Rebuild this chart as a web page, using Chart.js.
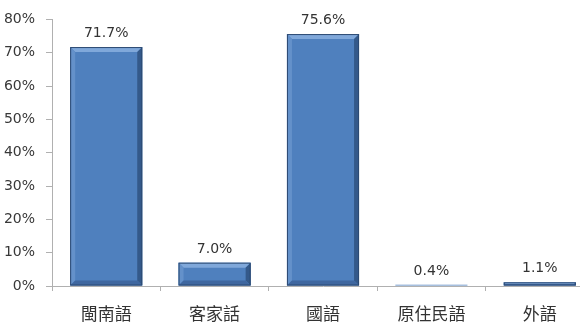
<!DOCTYPE html>
<html>
<head>
<meta charset="utf-8">
<script src="https://cdn.jsdelivr.net/npm/chart.js@4/dist/chart.umd.min.js"></script>
<style>
  html, body { margin: 0; padding: 0; background: #fff; overflow: hidden; }
  /* the plot runs a bit past the right edge of the picture, like the original */
  #wrap { width: 596px; height: 329px; }
</style>
</head>
<body>
<div id="wrap"><canvas id="langChart"></canvas></div>
<script>
const categories = ['閩南語', '客家話', '國語', '原住民語', '外語'];
const shares = [71.7, 7.0, 75.6, 0.4, 1.1];
const yMax = 80;
const yStep = 10;

// bevelled look like the old office charts
const bevelPlugin = {
  id: 'bevel',
  afterDatasetsDraw(chart) {
    const ctx = chart.ctx;
    chart.getDatasetMeta(0).data.forEach(function(bar) {
      const l = bar.x - bar.width / 2, r = bar.x + bar.width / 2;
      const t = bar.y, b = bar.base;
      const h = b - t;
      if (h < 2) return;
      const s = Math.min(5, h / 2);
      ctx.save();
      const face = (pts, col) => {
        ctx.beginPath();
        ctx.moveTo(pts[0][0], pts[0][1]);
        pts.slice(1).forEach(p => ctx.lineTo(p[0], p[1]));
        ctx.closePath();
        ctx.fillStyle = col;
        ctx.fill();
      };
      face([[l, t], [r, t], [r - s, t + s], [l + s, t + s]], '#80a8da');
      face([[l, t], [l + s, t + s], [l + s, b - s], [l, b]], '#6491ca');
      face([[r, t], [r, b], [r - s, b - s], [r - s, t + s]], '#34598a');
      face([[l, b], [l + s, b - s], [r - s, b - s], [r, b]], '#3f67a0');
      ctx.strokeStyle = '#2c4a72';
      ctx.lineWidth = 1;
      ctx.strokeRect(l + 0.5, t + 0.5, r - l - 1, h - 1);
      ctx.restore();
    });
  }
};

const valueLabels = {
  id: 'valueLabels',
  afterDatasetsDraw(chart) {
    const ctx = chart.ctx;
    ctx.save();
    ctx.font = '14px "DejaVu Sans", Verdana, sans-serif';
    ctx.fillStyle = '#333';
    ctx.textAlign = 'center';
    ctx.textBaseline = 'alphabetic';
    chart.getDatasetMeta(0).data.forEach(function(bar, i) {
      ctx.fillText(shares[i].toFixed(1) + '%', bar.x, bar.y - 10);
    });
    ctx.restore();
  }
};

new Chart(document.getElementById('langChart'), {
  type: 'bar',
  data: {
    labels: categories,
    datasets: [{
      data: shares,
      backgroundColor: '#4f80be',
      borderWidth: 0,
      categoryPercentage: 1,
      barPercentage: 0.665
    }]
  },
  options: {
    responsive: true,
    maintainAspectRatio: false,
    animation: false,
    layout: { padding: { top: 16, right: 2, left: 0, bottom: 0 } },
    plugins: {
      legend: { display: false },
      tooltip: { enabled: false }
    },
    scales: {
      y: {
        min: 0,
        max: yMax,
        ticks: {
          stepSize: yStep,
          padding: 11,
          color: '#383838',
          font: { family: '"DejaVu Sans", Verdana, sans-serif', size: 14 },
          callback: v => v + '%'
        },
        grid: { drawOnChartArea: false, drawTicks: true, tickLength: 6, color: '#b0b0b0' },
        border: { color: '#b0b0b0' },
        afterFit(scale) { scale.width = 52; }
      },
      x: {
        ticks: {
          padding: 12,
          color: '#333',
          font: { family: '"Noto Sans CJK TC", sans-serif', size: 17 }
        },
        grid: { drawOnChartArea: false, drawTicks: true, tickLength: 5, color: '#b0b0b0', offset: true },
        border: { color: '#b0b0b0' },
        afterFit(scale) { scale.height = 43; }
      }
    }
  },
  plugins: [bevelPlugin, valueLabels]
});
</script>
</body>
</html>
